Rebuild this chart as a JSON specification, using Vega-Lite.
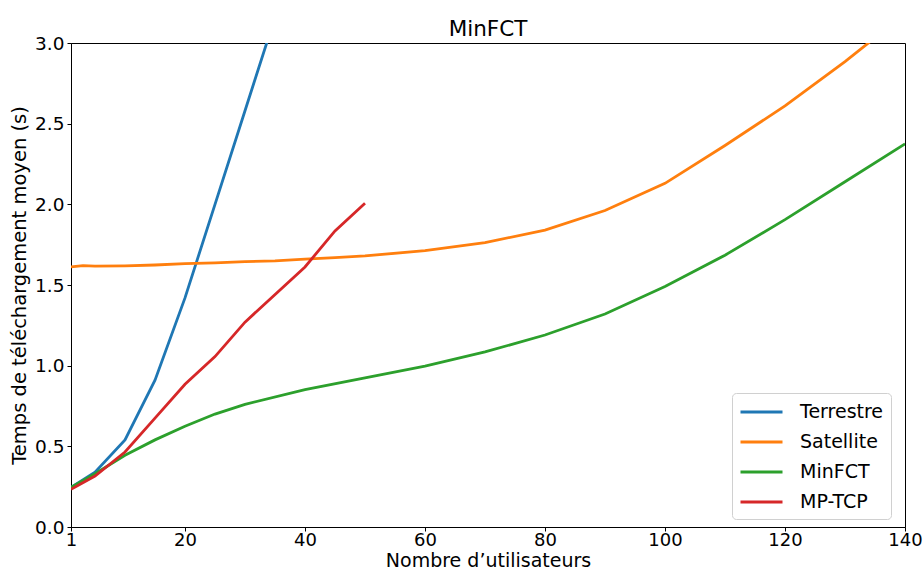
{
  "$schema": "https://vega.github.io/schema/vega-lite/v6.json",
  "width": 834,
  "height": 484,
  "autosize": {"type": "none"},
  "padding": {"left": 71, "top": 43, "right": 19, "bottom": 45},
  "background": "white",
  "title": {"text": "MinFCT", "fontSize": 21.5, "font": "DejaVu Sans", "fontWeight": "normal", "color": "black", "anchor": "middle", "offset": -6},
  "config": {
    "font": "DejaVu Sans",
    "view": {"stroke": "black", "strokeWidth": 1},
    "axis": {"grid": false, "domainColor": "black", "tickColor": "black", "labelColor": "black", "titleColor": "black", "labelFontSize": 18.5, "titleFontSize": 19.5, "titleFontWeight": "normal", "tickSize": 4, "domainWidth": 1}
  },
  "data": {"values": [
    {"x": 1, "y": 0.246, "s": "Terrestre"},
    {"x": 5, "y": 0.34, "s": "Terrestre"},
    {"x": 10, "y": 0.54, "s": "Terrestre"},
    {"x": 15, "y": 0.91, "s": "Terrestre"},
    {"x": 20, "y": 1.42, "s": "Terrestre"},
    {"x": 25, "y": 2.0, "s": "Terrestre"},
    {"x": 30, "y": 2.58, "s": "Terrestre"},
    {"x": 35, "y": 3.16, "s": "Terrestre"},
    {"x": 40, "y": 3.74, "s": "Terrestre"},
    {"x": 1, "y": 1.612, "s": "Satellite"},
    {"x": 3, "y": 1.62, "s": "Satellite"},
    {"x": 5, "y": 1.617, "s": "Satellite"},
    {"x": 10, "y": 1.619, "s": "Satellite"},
    {"x": 15, "y": 1.624, "s": "Satellite"},
    {"x": 20, "y": 1.633, "s": "Satellite"},
    {"x": 25, "y": 1.637, "s": "Satellite"},
    {"x": 30, "y": 1.645, "s": "Satellite"},
    {"x": 35, "y": 1.65, "s": "Satellite"},
    {"x": 40, "y": 1.661, "s": "Satellite"},
    {"x": 45, "y": 1.67, "s": "Satellite"},
    {"x": 50, "y": 1.68, "s": "Satellite"},
    {"x": 60, "y": 1.713, "s": "Satellite"},
    {"x": 70, "y": 1.763, "s": "Satellite"},
    {"x": 80, "y": 1.84, "s": "Satellite"},
    {"x": 90, "y": 1.962, "s": "Satellite"},
    {"x": 100, "y": 2.13, "s": "Satellite"},
    {"x": 110, "y": 2.365, "s": "Satellite"},
    {"x": 120, "y": 2.61, "s": "Satellite"},
    {"x": 130, "y": 2.885, "s": "Satellite"},
    {"x": 140, "y": 3.18, "s": "Satellite"},
    {"x": 1, "y": 0.246, "s": "MinFCT"},
    {"x": 5, "y": 0.33, "s": "MinFCT"},
    {"x": 10, "y": 0.445, "s": "MinFCT"},
    {"x": 15, "y": 0.54, "s": "MinFCT"},
    {"x": 20, "y": 0.625, "s": "MinFCT"},
    {"x": 25, "y": 0.7, "s": "MinFCT"},
    {"x": 30, "y": 0.76, "s": "MinFCT"},
    {"x": 40, "y": 0.852, "s": "MinFCT"},
    {"x": 50, "y": 0.925, "s": "MinFCT"},
    {"x": 60, "y": 0.997, "s": "MinFCT"},
    {"x": 70, "y": 1.085, "s": "MinFCT"},
    {"x": 80, "y": 1.19, "s": "MinFCT"},
    {"x": 90, "y": 1.32, "s": "MinFCT"},
    {"x": 100, "y": 1.49, "s": "MinFCT"},
    {"x": 110, "y": 1.685, "s": "MinFCT"},
    {"x": 120, "y": 1.905, "s": "MinFCT"},
    {"x": 130, "y": 2.14, "s": "MinFCT"},
    {"x": 140, "y": 2.375, "s": "MinFCT"},
    {"x": 1, "y": 0.234, "s": "MP-TCP"},
    {"x": 5, "y": 0.316, "s": "MP-TCP"},
    {"x": 10, "y": 0.465, "s": "MP-TCP"},
    {"x": 15, "y": 0.675, "s": "MP-TCP"},
    {"x": 20, "y": 0.885, "s": "MP-TCP"},
    {"x": 25, "y": 1.056, "s": "MP-TCP"},
    {"x": 30, "y": 1.27, "s": "MP-TCP"},
    {"x": 40, "y": 1.612, "s": "MP-TCP"},
    {"x": 45, "y": 1.835, "s": "MP-TCP"},
    {"x": 50, "y": 2.007, "s": "MP-TCP"}
  ]},
  "mark": {"type": "line", "strokeWidth": 2.8, "clip": true},
  "encoding": {
    "x": {"field": "x", "type": "quantitative", "scale": {"domain": [1, 140], "nice": false, "zero": false},
      "axis": {"values": [1, 20, 40, 60, 80, 100, 120, 140], "title": "Nombre d’utilisateurs", "labelFontSize": 18, "labelPadding": 0, "titleFontSize": 19, "titlePadding": 2, "labelFlush": false}},
    "y": {"field": "y", "type": "quantitative", "scale": {"domain": [0, 3], "nice": false},
      "axis": {"values": [0, 0.5, 1, 1.5, 2, 2.5, 3], "format": ".1f", "title": "Temps de téléchargement moyen (s)", "labelPadding": 3, "titlePadding": 5, "labelFlush": false}},
    "color": {"field": "s", "type": "nominal",
      "scale": {"domain": ["Terrestre", "Satellite", "MinFCT", "MP-TCP"], "range": ["#1f77b4", "#ff7f0e", "#2ca02c", "#d62728"]},
      "legend": {"title": null, "orient": "none", "legendX": 661, "legendY": 350, "symbolType": "M-1,0H3", "symbolSize": 441, "symbolStrokeWidth": 3, "labelFontSize": 19, "labelColor": "black", "labelOffset": 37, "rowPadding": 8, "padding": 7, "strokeColor": "#d0d0d0", "fillColor": "white", "cornerRadius": 4}},
    "order": {"field": "s"}
  }
}
